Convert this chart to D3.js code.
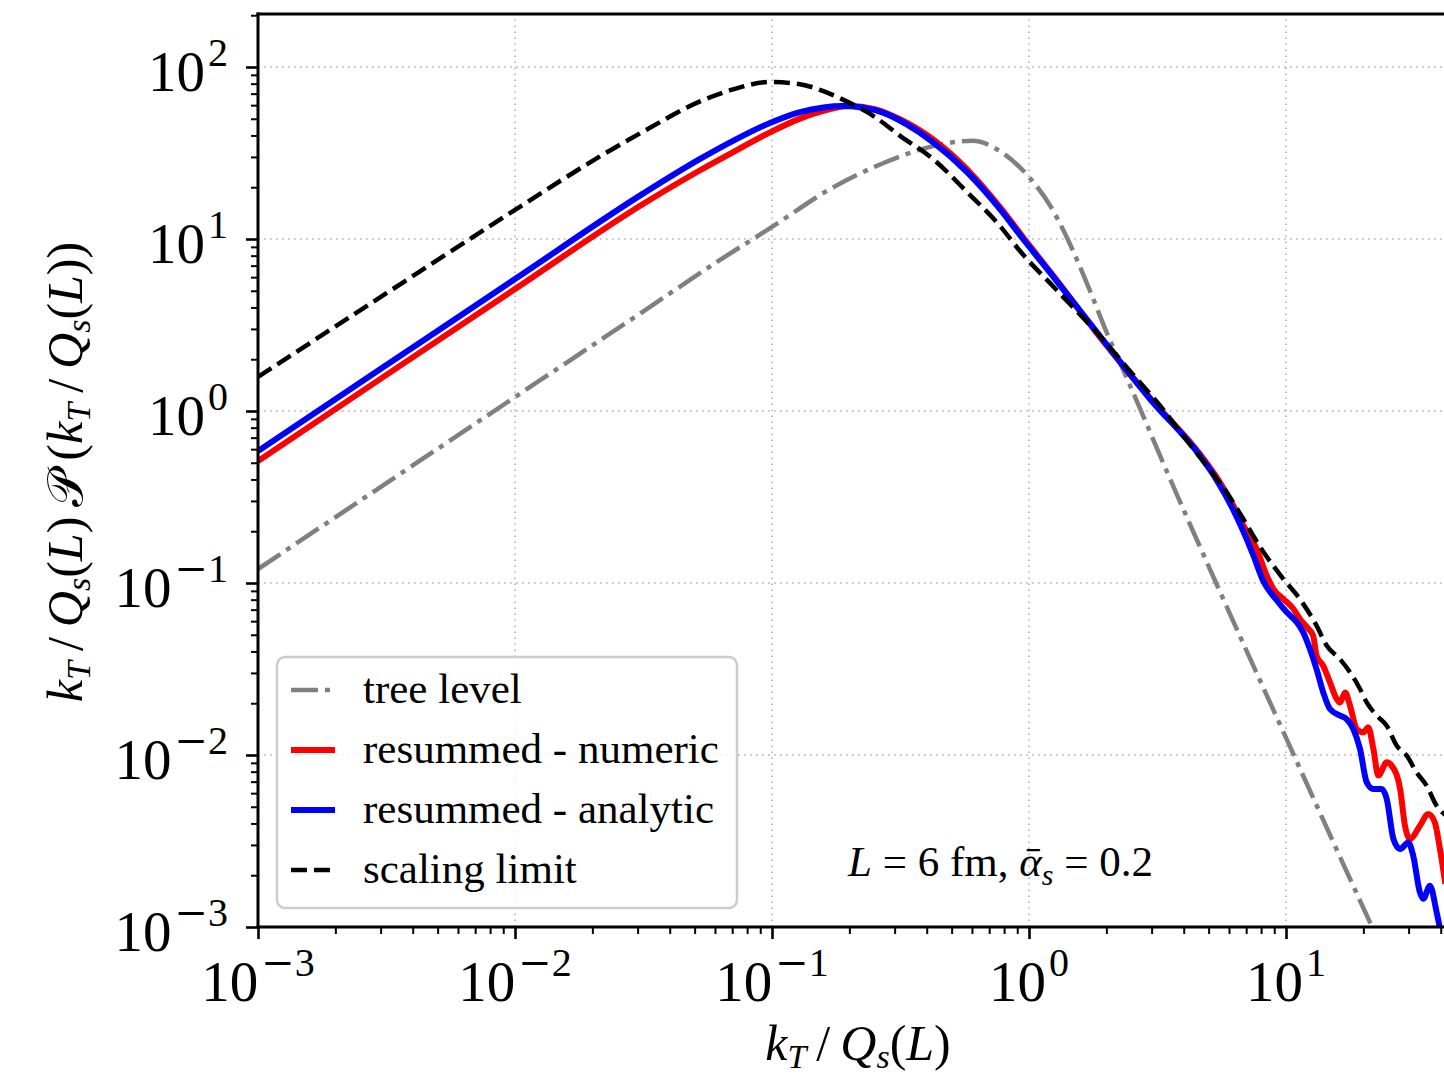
<!DOCTYPE html>
<html><head><meta charset="utf-8">
<script src="https://cdn.jsdelivr.net/npm/d3@7"></script>
<style>body{margin:0;background:#fff;} svg{display:block;}</style>
</head><body>
<svg id="c" width="1444" height="1080"></svg>
<script>
// ---------- data ----------
const treeX = [0.001,0.00316,0.01,0.0316,0.0611,0.1,0.1726,0.251,0.315,0.398,0.493,0.603,0.771,1.0,1.202,1.413,1.726,2.014,2.404,2.877,3.236,5.383,9.727,21.63,25.12];
const treeY = [0.1205,0.381,1.205,3.80,7.36,11.75,19.95,26.3,30.2,33.9,36.3,37.2,32.4,22.9,15.85,10.0,5.01,2.82,1.55,0.832,0.550,0.0977,0.0138,0.001,0.000617];

const numericX = [0.001,0.00316,0.01,0.0316,0.0525,0.0750,0.0982,0.1285,0.1585,0.1995,0.251,0.3162,0.4227,0.5741,0.771,0.9484,1.259,1.888,2.958,4.624,5.370,6.237,6.823,7.691,8.414,8.933,9.772,10.69,11.32,12.22,12.76,13.15,13.96,14.83,15.74,16.22,16.98,17.74,18.84,20.0,20.89,21.88,22.86,24.66,25.76,27.80,29.04,30.34,33.19,35.73,37.93,39.72,41.69];
const numericY = [0.512,1.622,5.12,16.03,25.1,33.6,41.7,50.1,55.6,59.3,56.9,49.5,38.0,25.4,15.31,10.23,5.96,2.692,1.189,0.562,0.412,0.282,0.2163,0.1578,0.1104,0.0923,0.0807,0.0706,0.0618,0.0541,0.0494,0.0378,0.0330,0.0264,0.0212,0.0202,0.0231,0.0194,0.01416,0.01355,0.01449,0.01084,0.00759,0.00906,0.00867,0.00634,0.00388,0.00325,0.00388,0.00454,0.00406,0.00284,0.00178];

const analyticX = [0.001,0.00316,0.01,0.0316,0.0525,0.0705,0.0982,0.1285,0.1585,0.1888,0.2239,0.2704,0.3357,0.4227,0.5741,0.771,0.9484,1.259,1.888,2.958,4.624,5.370,6.237,6.823,7.464,8.166,9.204,10.07,11.02,11.67,12.39,13.15,13.96,14.83,16.22,17.22,18.28,19.41,20.61,21.88,23.55,24.66,26.18,27.80,29.92,31.26,33.19,34.20,36.31,38.55,40.27,41.69];
const analyticY = [0.585,1.849,5.85,18.41,29.2,37.2,47.3,54.7,58.2,59.3,58.2,54.3,46.2,36.6,24.5,14.93,10.0,5.89,2.729,1.175,0.550,0.398,0.266,0.1995,0.1445,0.1023,0.0794,0.0675,0.0590,0.0516,0.0413,0.0316,0.0231,0.0185,0.01694,0.01618,0.01416,0.01084,0.00693,0.00634,0.00634,0.00555,0.00325,0.00284,0.00310,0.00260,0.00159,0.00146,0.00174,0.00122,0.00089,0.00071];

const scalingX = [0.001,0.00316,0.01,0.0214,0.0316,0.0525,0.0705,0.0982,0.1285,0.1585,0.1888,0.251,0.315,0.4227,0.5741,0.771,0.9226,1.259,1.888,2.512,3.236,3.981,4.909,5.875,6.823,7.925,9.772,11.32,13.15,14.39,16.22,17.74,19.41,20.61,22.54,24.66,26.98,29.51,32.21,35.24,38.55,42.66];
const scalingY = [1.578,4.84,14.76,30.2,42.2,63.1,74.1,81.8,79.4,72.4,64.6,51.3,39.8,29.2,18.75,11.91,8.51,5.19,2.729,1.660,1.074,0.719,0.481,0.3365,0.2355,0.1622,0.1054,0.0807,0.0565,0.0433,0.0361,0.0303,0.0242,0.0202,0.01694,0.01479,0.01132,0.00991,0.00793,0.00664,0.00507,0.00437];

const xTickValues = [1e-3, 1e-2, 1e-1, 1, 10];
const xTickExponents = ["\u22123", "\u22122", "\u22121", "0", "1"];
const yTickValues = [1e-3, 1e-2, 1e-1, 1, 10, 100];
const yTickExponents = ["\u22123", "\u22122", "\u22121", "0", "1", "2"];
const legendLabels = ["tree level", "resummed - numeric", "resummed - analytic", "scaling limit"];

// ---------- layout ----------
const svg = d3.select("#c");
const left = 258, bottom = 927;
const decadeX = 257, decadeY = 172;
const xDomain = [1e-3, 48], yDomain = [1e-3, 203];
const x = d3.scaleLog().domain(xDomain).range([left, left + decadeX * Math.log10(xDomain[1] / xDomain[0])]);
const y = d3.scaleLog().domain(yDomain).range([bottom, bottom - decadeY * Math.log10(yDomain[1] / yDomain[0])]);
const xr = x.range(), yr = y.range();
const serif = "'Liberation Serif', 'Times New Roman', serif";

svg.append("rect").attr("width", 1444).attr("height", 1080).attr("fill", "#fff");

// grid
const grid = svg.append("g").attr("stroke", "#b0b0b0").attr("stroke-width", 1.6).attr("stroke-dasharray", "1.6,4.4");
grid.selectAll(".gx").data(xTickValues.slice(1)).enter().append("line")
  .attr("x1", d => x(d)).attr("x2", d => x(d)).attr("y1", yr[0]).attr("y2", yr[1]);
grid.selectAll(".gy").data(yTickValues.slice(1)).enter().append("line")
  .attr("y1", d => y(d)).attr("y2", d => y(d)).attr("x1", xr[0]).attr("x2", xr[1]);

// clip
svg.append("clipPath").attr("id", "clip").append("rect")
  .attr("x", xr[0]).attr("y", yr[1]).attr("width", xr[1] - xr[0]).attr("height", yr[0] - yr[1]);

const line = d3.line().x(d => x(d[0])).y(d => y(d[1])).curve(d3.curveMonotoneX);
const zip = (a, b) => a.map((v, i) => [v, b[i]]);
const plot = svg.append("g").attr("clip-path", "url(#clip)");

const styles = [
  {xs: treeX, ys: treeY, color: "#808080", w: 4.5, dash: "27,7,5,7"},
  {xs: numericX, ys: numericY, color: "#ff0000", w: 6, dash: null},
  {xs: analyticX, ys: analyticY, color: "#0000ff", w: 6, dash: null},
  {xs: scalingX, ys: scalingY, color: "#000000", w: 4.5, dash: "16,7"}
];
styles.forEach(s => {
  plot.append("path").attr("d", line(zip(s.xs, s.ys)))
    .attr("fill", "none").attr("stroke", s.color).attr("stroke-width", s.w)
    .attr("stroke-dasharray", s.dash).attr("stroke-linejoin", "round");
});

// minor tick values
const minorX = [], minorY = [];
[1e-3, 1e-2, 1e-1, 1, 10].forEach(d => { for (let k = 2; k <= 9; k++) { const v = k * d; if (v < xDomain[1]) minorX.push(v); } });
[1e-3, 1e-2, 1e-1, 1, 10, 100].forEach(d => { for (let k = 2; k <= 9; k++) { const v = k * d; if (v < yDomain[1]) minorY.push(v); } });

// axes
const gx = svg.append("g").attr("transform", `translate(0,${bottom})`);
gx.call(d3.axisBottom(x).tickValues(xTickValues).tickFormat("").tickSize(12).tickSizeOuter(0));
const gxm = svg.append("g").attr("transform", `translate(0,${bottom})`);
gxm.call(d3.axisBottom(x).tickValues(minorX).tickFormat("").tickSize(7).tickSizeOuter(0));
const gy = svg.append("g").attr("transform", `translate(${left},0)`);
gy.call(d3.axisLeft(y).tickValues(yTickValues).tickFormat("").tickSize(12).tickSizeOuter(0));
const gym = svg.append("g").attr("transform", `translate(${left},0)`);
gym.call(d3.axisLeft(y).tickValues(minorY).tickFormat("").tickSize(7).tickSizeOuter(0));
[gx, gy].forEach(g => { g.selectAll(".tick line").attr("stroke", "#000").attr("stroke-width", 2.6); g.select(".domain").remove(); });
[gxm, gym].forEach(g => { g.selectAll(".tick line").attr("stroke", "#000").attr("stroke-width", 2); g.select(".domain").remove(); });

// spines
const spines = svg.append("g").attr("stroke", "#000").attr("stroke-width", 3).attr("stroke-linecap", "square");
spines.append("line").attr("x1", xr[0]).attr("x2", 1450).attr("y1", yr[0]).attr("y2", yr[0]);
spines.append("line").attr("x1", xr[0]).attr("x2", 1450).attr("y1", yr[1]).attr("y2", yr[1]);
spines.append("line").attr("x1", xr[0]).attr("x2", xr[0]).attr("y1", yr[0]).attr("y2", yr[1]);

// tick labels
function powLabel(sel, exp) {
  sel.append("tspan").text("10");
  const e = sel.append("tspan").attr("dy", -25).attr("dx", 3).attr("font-size", 40);
  if (exp.startsWith("\u2212")) {
    e.attr("font-family", "'DejaVu Serif', serif").attr("font-weight", 300).text("\u2212");
    sel.append("tspan").attr("font-size", 40).text(exp.slice(1));
  } else {
    e.text(exp);
  }
}
xTickValues.forEach((v, i) => {
  const t = svg.append("text").attr("x", x(v)).attr("y", 1001).attr("text-anchor", "middle")
    .attr("font-family", serif).attr("font-size", 57).attr("fill", "#000");
  powLabel(t, xTickExponents[i]);
});
yTickValues.forEach((v, i) => {
  const t = svg.append("text").attr("x", 228).attr("y", y(v) + 24).attr("text-anchor", "end")
    .attr("font-family", serif).attr("font-size", 57).attr("fill", "#000");
  powLabel(t, yTickExponents[i]);
});

// rich text helper: parts [text, italic, sub, family]
function rich(sel, parts, shift, subSize) {
  let down = false;
  parts.forEach(p => {
    const ts = sel.append("tspan").text(p[0]);
    if (p[1]) ts.attr("font-style", "italic");
    if (p[3]) ts.attr("font-family", p[3]);
    if (p[2]) { ts.attr("font-size", subSize); if (!down) { ts.attr("dy", shift); down = true; } }
    else if (down) { ts.attr("dy", -shift); down = false; }
  });
}
const kq = [["k", 1, 0], ["T", 1, 1], ["\u2009/\u2009", 0, 0], ["Q", 1, 0], ["s", 1, 1], ["(", 0, 0], ["L", 1, 0], [")", 0, 0]];

// x axis label
const xl = svg.append("text").attr("x", 858).attr("y", 1060).attr("text-anchor", "middle")
  .attr("font-family", serif).attr("font-size", 50).attr("fill", "#000");
rich(xl, kq, 8, 34);

// y axis label
const yl = svg.append("text").attr("transform", "translate(82,472) rotate(-90)").attr("text-anchor", "middle")
  .attr("font-family", serif).attr("font-size", 50).attr("fill", "#000");
rich(yl, kq.concat([["\u2009\u{1D4AB}\u2009", 0, 0], ["(", 0, 0]], kq, [[")", 0, 0]]), 8, 34);

// legend
const lg = svg.append("g");
lg.append("rect").attr("x", 277).attr("y", 657).attr("width", 460).attr("height", 251).attr("rx", 8)
  .attr("fill", "#fff").attr("fill-opacity", 0.8).attr("stroke", "#cccccc").attr("stroke-width", 2.5);
const rowY = d3.scaleLinear().domain([0, 3]).range([690, 870]);
styles.forEach((s, i) => {
  lg.append("line").attr("x1", 291).attr("x2", 335).attr("y1", rowY(i)).attr("y2", rowY(i))
    .attr("stroke", s.color).attr("stroke-width", s.w).attr("stroke-dasharray", s.dash);
  lg.append("text").attr("x", 363).attr("y", rowY(i) + 13).attr("font-family", serif)
    .attr("font-size", 43).attr("fill", "#000").text(legendLabels[i]);
});

// annotation
const an = svg.append("text").attr("x", 848).attr("y", 876).attr("font-family", serif)
  .attr("font-size", 43).attr("fill", "#000");
rich(an, [["L", 1, 0], [" = 6 fm, ", 0, 0], ["\u1FB1", 1, 0], ["s", 1, 1], [" = 0.2", 0, 0]], 9, 30);
</script>
</body></html>
